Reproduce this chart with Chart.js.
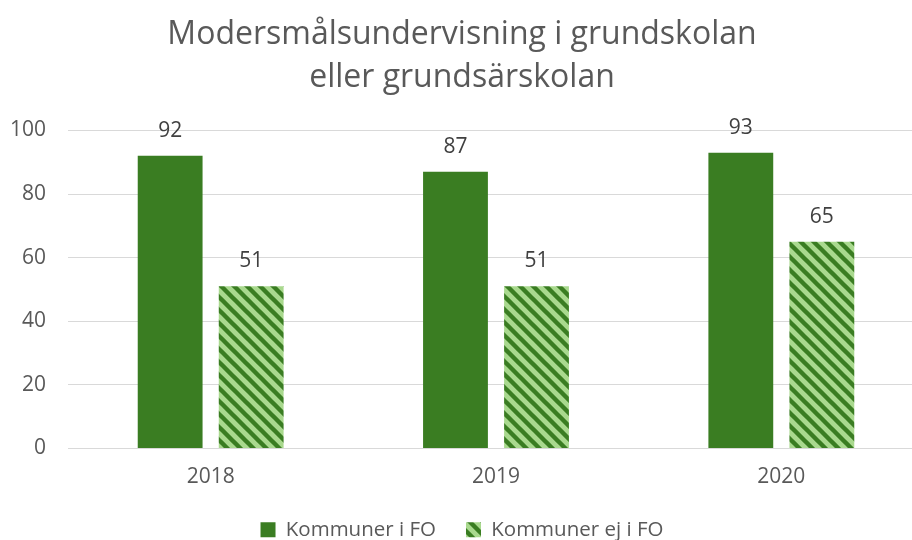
<!DOCTYPE html>
<html>
<head>
<meta charset="utf-8">
<script src="https://cdn.jsdelivr.net/npm/chart.js@4/dist/chart.umd.min.js"></script>
<style>
  html, body { margin: 0; padding: 0; background: #fff; overflow: hidden; }
  #wrap { width: 912px; height: 540px; position: relative; overflow: hidden; }
</style>
</head>
<body>
<div id="wrap"><canvas id="chart" width="944" height="550"></canvas></div>
<script>
const years = ['2018', '2019', '2020'];
const kommunerIFO = [92, 87, 93];
const kommunerEjIFO = [51, 51, 65];
const yTicks = [0, 20, 40, 60, 80, 100];

const darkGreen = '#3A7D22';
const lightGreen = '#A9D98E';
const textGrey = '#595959';
const fontFamily = '"Open Sans", Calibri, sans-serif';

// randig fyllning (diagonal nedåt)
function makeHatch() {
    const size = 13;
    const c = document.createElement('canvas');
    c.width = size;
    c.height = size;
    const g = c.getContext('2d');
    g.fillStyle = lightGreen;
    g.fillRect(0, 0, size, size);
    g.strokeStyle = darkGreen;
    g.lineWidth = 4.4;
    g.beginPath();
    for (let k = -1; k <= 1; k++) {
        g.moveTo(k * size - 2, -2);
        g.lineTo(k * size + size + 2, size + 2);
    }
    g.stroke();
    return g.createPattern(c, 'repeat');
}

const hatch = makeHatch();

const valueLabels = {
    id: 'valueLabels',
    afterDatasetsDraw(chart) {
        const ctx = chart.ctx;
        ctx.save();
        ctx.font = '21px ' + fontFamily;
        ctx.fillStyle = '#404040';
        ctx.textAlign = 'center';
        ctx.textBaseline = 'middle';
        chart.data.datasets.forEach((ds, i) => {
            chart.getDatasetMeta(i).data.forEach((bar, j) => {
                ctx.fillText(ds.data[j], bar.x, bar.y - 25);
            });
        });
        ctx.restore();
    }
};

new Chart(document.getElementById('chart'), {
    type: 'bar',
    data: {
        labels: years,
        datasets: [
            {
                label: 'Kommuner i FO',
                data: kommunerIFO,
                backgroundColor: darkGreen,
                borderWidth: 0,
                barPercentage: 0.8,
                categoryPercentage: 0.568
            },
            {
                label: 'Kommuner ej i FO',
                data: kommunerEjIFO,
                backgroundColor: hatch,
                borderWidth: 0,
                barPercentage: 0.8,
                categoryPercentage: 0.568
            }
        ]
    },
    options: {
        responsive: false,
        animation: false,
        layout: { padding: { left: 0, right: 20, top: 0, bottom: 0 } },
        scales: {
            x: {
                afterFit: (scale) => { scale.height = 41; },
                grid: { display: false, drawTicks: false },
                border: { color: '#d9d9d9', width: 1 },
                ticks: { color: textGrey, font: { size: 21, family: fontFamily }, padding: 16 }
            },
            y: {
                min: 0,
                max: 100,
                afterBuildTicks: (scale) => { scale.ticks = yTicks.map(v => ({ value: v })); },
                afterFit: (scale) => { scale.width = 68; },
                grid: { color: '#d9d9d9', drawTicks: false },
                border: { display: false },
                ticks: { color: textGrey, font: { size: 21, family: fontFamily }, padding: 22 }
            }
        },
        plugins: {
            title: {
                display: true,
                text: ['Modersmålsundervisning i grundskolan', 'eller grundsärskolan'],
                color: textGrey,
                font: { size: 32, weight: 'normal', family: fontFamily, lineHeight: 1.35 },
                padding: { top: 13, bottom: 31 }
            },
            legend: {
                position: 'bottom',
                labels: {
                    color: textGrey,
                    font: { size: 20.5, family: fontFamily },
                    boxWidth: 15,
                    boxHeight: 15,
                    padding: 30
                }
            },
            tooltip: { enabled: false }
        }
    },
    plugins: [valueLabels]
});
</script>
</body>
</html>
